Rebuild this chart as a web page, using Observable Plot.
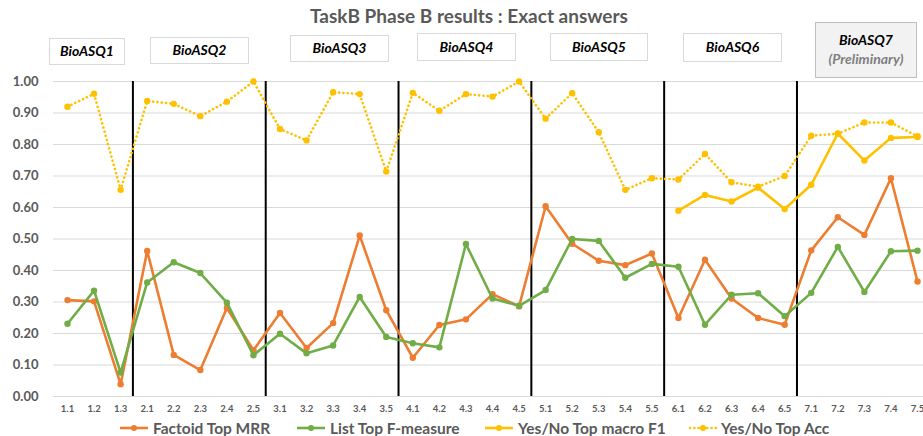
<!DOCTYPE html>
<html>
<head>
<meta charset="utf-8">
<script src="https://cdn.jsdelivr.net/npm/d3@7"></script>
<script src="https://cdn.jsdelivr.net/npm/@observablehq/plot@0.6"></script>
<style>
  body { margin: 0; background: #fff; }
  #wrap { position: relative; width: 923px; height: 436px; overflow: hidden; font-family: Lato, "Open Sans", sans-serif; }
  #chart { position: absolute; left: 0; top: 0; }
  .title { position: absolute; left: 0; width: 938px; top: 4px; text-align: center; font-weight: bold; font-size: 19px; color: #595959; }
  .box { position: absolute; box-sizing: border-box; border: 1px solid #d9d9d9; background: #fff; display: flex; flex-direction: column; justify-content: center; align-items: center; font-weight: bold; font-style: italic; font-size: 14px; color: #000; line-height: 1.35; }
  .box .sub { color: #7f7f7f; }
  .leg { position: absolute; top: 420px; height: 16px; line-height: 16px; display: flex; align-items: center; font-weight: bold; font-size: 15.5px; color: #595959; white-space: nowrap; }
  .leg svg { margin-right: 3px; }
</style>
</head>
<body>
<div id="wrap"></div>
<script>
// ---- data ----
const categories = ["1.1","1.2","1.3",
  "2.1","2.2","2.3","2.4","2.5",
  "3.1","3.2","3.3","3.4","3.5",
  "4.1","4.2","4.3","4.4","4.5",
  "5.1","5.2","5.3","5.4","5.5",
  "6.1","6.2","6.3","6.4","6.5",
  "7.1","7.2","7.3","7.4","7.5"];
const factoidTopMRR = [0.306,0.302,0.039,
  0.462,0.132,0.084,0.281,0.147,
  0.265,0.154,0.233,0.511,0.274,
  0.123,0.227,0.245,0.325,0.286,
  0.604,0.485,0.431,0.417,0.454,
  0.249,0.434,0.311,0.249,0.228,
  0.464,0.569,0.513,0.693,0.365];
const listTopF = [0.231,0.336,0.076,
  0.362,0.426,0.392,0.298,0.131,
  0.199,0.137,0.162,0.316,0.189,
  0.169,0.156,0.484,0.311,0.288,
  0.338,0.500,0.494,0.377,0.421,
  0.412,0.228,0.323,0.328,0.255,
  0.329,0.475,0.332,0.461,0.463];
const yesNoTopF1 = [null,null,null,
  null,null,null,null,null,
  null,null,null,null,null,
  null,null,null,null,null,
  null,null,null,null,null,
  0.590,0.640,0.619,0.663,0.595,
  0.672,0.835,0.749,0.821,0.824];
const yesNoTopAcc = [0.920,0.961,0.656,
  0.938,0.929,0.890,0.936,1.000,
  0.849,0.813,0.966,0.960,0.714,
  0.964,0.907,0.960,0.952,1.000,
  0.882,0.963,0.839,0.656,0.693,
  0.689,0.770,0.680,0.666,0.700,
  0.828,0.834,0.870,0.870,0.826];
const seriesNames = ["Factoid Top MRR","List Top F-measure","Yes/No Top macro F1","Yes/No Top Acc"];
const seriesColors = ["#ED7D31","#70AD47","#FFC000","#FFC000"];
const groupStarts = ["2.1","3.1","4.1","5.1","6.1","7.1"];
const editions = ["BioASQ1","BioASQ2","BioASQ3","BioASQ4","BioASQ5","BioASQ6","BioASQ7"];
const editionNote = "(Preliminary)";
const titleText = "TaskB Phase B results : Exact answers";

// ---- layout ----
const W = 923, H = 436;
const mL = 53, mR = 0;
const xRange = [67, 917];
const step = (xRange[1] - xRange[0]) / (categories.length - 1);

const rows = (vals) => categories.map((c, i) => ({c, v: vals[i]}));
const allSeries = [factoidTopMRR, listTopF, yesNoTopF1, yesNoTopAcc].map(rows);

const wrap = document.getElementById("wrap");

const marks = [
  Plot.gridY({stroke: "#d9d9d9", strokeOpacity: 1, strokeWidth: 1}),
  Plot.ruleX(groupStarts, {x: d => d, y1: 0, y2: 1, dx: -step / 2 - 1, stroke: "#000", strokeWidth: 2}),
  Plot.axisY({tickSize: 0, tickPadding: 15, tickFormat: d3.format(".2f"), fontSize: 13, fontWeight: "bold", fill: "#595959", label: null}),
  Plot.axisX({tickSize: 0, tickPadding: 9, fontSize: 9.5, fontWeight: "bold", fill: "#595959", label: null})
];
allSeries.forEach((data, i) => {
  const dotted = i === 3;
  const pts = data.filter(d => d.v != null);
  marks.push(Plot.line(pts, {x: "c", y: "v", stroke: seriesColors[i], strokeWidth: 2.6,
    strokeDasharray: dotted ? "0.1,4.2" : null, strokeLinecap: dotted ? "round" : "butt"}));
  marks.push(Plot.dot(pts, {x: "c", y: "v", r: 3.2, fill: seriesColors[i], stroke: "none"}));
});

const chart = Plot.plot({
  width: W, height: H,
  marginLeft: mL, marginRight: mR, marginTop: 81, marginBottom: 40,
  style: {fontFamily: "Lato, 'Open Sans', sans-serif", background: "#fff", overflow: "visible"},
  x: {type: "point", domain: categories, range: xRange, padding: 0, round: false},
  y: {domain: [0, 1]},
  marks
});
chart.id = "chart";
wrap.appendChild(chart);

// title
const t = document.createElement("div");
t.className = "title";
t.textContent = titleText;
wrap.appendChild(t);

// edition boxes
const boxGeom = [[49,38,76,27],[150,37,99,27],[290,35,99,27],[417,33,99,28],[550,33,98,28],[683,33,99,29],[815,22,102,56]];
editions.forEach((e, i) => {
  const b = document.createElement("div");
  b.className = "box";
  const [x, y, w, h] = boxGeom[i];
  Object.assign(b.style, {left: x + "px", top: y + "px", width: w + "px", height: h + "px"});
  const s = document.createElement("div");
  s.textContent = e;
  b.appendChild(s);
  if (i === editions.length - 1) {
    b.style.background = "#f2f2f2";
    b.style.borderColor = "#bfbfbf";
    const n = document.createElement("div");
    n.className = "sub";
    n.textContent = editionNote;
    b.appendChild(n);
  }
  wrap.appendChild(b);
});

// legend
const legLeft = [118, 295, 483, 688];
seriesNames.forEach((name, i) => {
  const d = document.createElement("div");
  d.className = "leg";
  d.style.left = legLeft[i] + "px";
  const dotted = i === 3;
  const sw = dotted ? 30 : 32;
  d.innerHTML = `<svg width="${sw}" height="16"><line x1="2" x2="${sw-2}" y1="8" y2="8" stroke="${seriesColors[i]}" stroke-width="2.6" ${dotted ? 'stroke-dasharray="0.1,4.2" stroke-linecap="round"' : ''}/><circle cx="${sw/2}" cy="8" r="3" fill="${seriesColors[i]}"/></svg>`;
  const sp = document.createElement("span");
  sp.textContent = name;
  d.appendChild(sp);
  wrap.appendChild(d);
});
</script>
</body>
</html>
